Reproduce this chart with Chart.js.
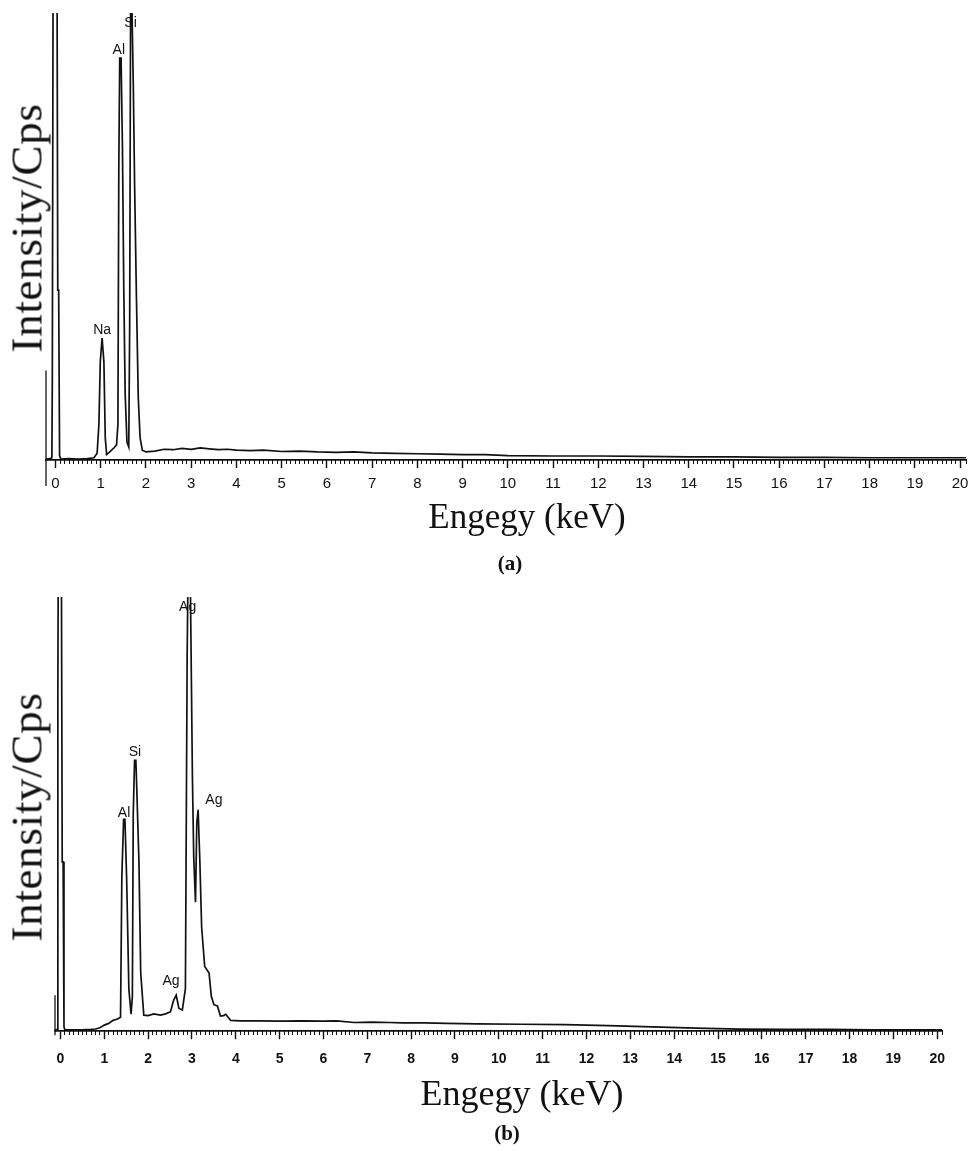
<!DOCTYPE html>
<html>
<head>
<meta charset="utf-8">
<script src="https://cdn.jsdelivr.net/npm/chart.js@4.4.1/dist/chart.umd.min.js"></script>
<style>
  html, body { margin: 0; padding: 0; background: #fff; width: 971px; height: 1151px; overflow: hidden; }
  canvas { position: absolute; left: 0; }
  .txt { position: absolute; white-space: nowrap; color: #111; line-height: 1; transform: translate(-50%, -50%); }
  .ytitle { font-family: 'Liberation Serif', serif; font-size: 45px; letter-spacing: 0.7px; transform: translate(-50%, -50%) rotate(-90deg); }
  .xtitle { font-family: 'Liberation Serif', serif; }
  .panel-tag { font-family: 'Liberation Serif', serif; font-weight: bold; font-size: 21px; }
</style>
</head>
<body>
<canvas id="chartA" width="1000" height="500" style="top:0"></canvas>
<canvas id="chartB" width="1000" height="490" style="top:590px"></canvas>

<div class="txt ytitle" style="left:27px; top:228px">Intensity/Cps</div>
<div class="txt xtitle" style="left:527px; top:516px; font-size:35px">Engegy (keV)</div>
<div class="txt panel-tag" style="left:510px; top:563px">(a)</div>

<div class="txt ytitle" style="left:27px; top:817px">Intensity/Cps</div>
<div class="txt xtitle" style="left:522px; top:1093px; font-size:36px">Engegy (keV)</div>
<div class="txt panel-tag" style="left:507px; top:1133px">(b)</div>

<script>
// x axis labels, 0..20 keV
const tickLabels = ['0', '1', '2', '3', '4', '5', '6', '7', '8', '9', '10',
    '11', '12', '13', '14', '15', '16', '17', '18', '19', '20'];

// (a) spectrum (energy in keV, intensity in % of full scale)
const energyA = [
    -0.21, -0.12, -0.08, -0.07, -0.06, -0.05, 0.03, 0.05, 0.07, 0.09,
    0.12, 0.3, 0.5, 0.7, 0.85, 0.92, 0.96, 0.99, 1.03, 1.07,
    1.10, 1.13, 1.2, 1.3, 1.35, 1.38, 1.40, 1.42, 1.45, 1.48,
    1.51, 1.54, 1.58, 1.62, 1.64, 1.66, 1.69, 1.72, 1.75, 1.79,
    1.83, 1.87, 1.92, 2.0, 2.2, 2.4, 2.6, 2.8, 3.0, 3.2,
    3.4, 3.6, 3.8, 4.0, 4.3, 4.6, 5.0, 5.4, 5.8, 6.2,
    6.6, 7.0, 7.5, 8.0, 8.5, 9.0, 9.5, 10, 11, 12,
    13, 14, 15, 16, 17, 18, 19, 20, 20.13
];
const countsA = [
    0.2, 0.3, 0.5, 18.5, 18.5, 125, 125, 38, 38, 1.0,
    0.2, 0.3, 0.2, 0.3, 0.5, 1.5, 8, 22, 27.3, 22,
    5, 1.2, 1.8, 2.8, 3.4, 8, 66, 89.9, 89.9, 70,
    38, 15, 4, 2.9, 30, 101, 101, 84, 61, 36,
    14, 5, 2.2, 1.8, 2.0, 2.4, 2.3, 2.6, 2.4, 2.7,
    2.5, 2.3, 2.4, 2.2, 2.1, 2.2, 1.9, 2.0, 1.8, 1.7,
    1.8, 1.6, 1.5, 1.4, 1.3, 1.2, 1.2, 1.0, 0.9, 0.9,
    0.8, 0.7, 0.7, 0.6, 0.6, 0.5, 0.5, 0.5, 0.5
];
const peakNamesA = ['Na', 'Al', 'Si'];
const peakEnergyA = [1.03, 1.40, 1.66];
const peakHeightA = [29.1, 91.7, 97.8];

// (b) spectrum
const energyB = [
    -0.125, -0.07, -0.06, -0.05, 0.02, 0.04, 0.06, 0.08, 0.1, 0.3,
    0.5, 0.7, 0.8, 0.9, 1.0, 1.1, 1.2, 1.3, 1.37, 1.40,
    1.44, 1.47, 1.51, 1.56, 1.61, 1.64, 1.66, 1.69, 1.72, 1.74,
    1.79, 1.83, 1.9, 2.0, 2.13, 2.28, 2.4, 2.51, 2.58, 2.64,
    2.70, 2.78, 2.85, 2.89, 2.91, 2.96, 3.01, 3.04, 3.08, 3.11,
    3.14, 3.18, 3.22, 3.29, 3.39, 3.44, 3.50, 3.58, 3.65, 3.72,
    3.77, 3.88, 4.1, 4.5, 5.0, 5.5, 6.0, 6.3, 6.7, 7.1,
    7.5, 7.8, 8.3, 8.8, 9.5, 10.5, 11.5, 12.5, 13.5, 14.5,
    15.5, 16.5, 17.5, 18.5, 19.5, 20.11
];
const countsB = [
    0.3, 0.4, 77, 110, 110, 39, 39, 1.0, 0.3, 0.3,
    0.3, 0.4, 0.5, 0.8, 1.4, 1.8, 2.5, 2.8, 3.2, 35.6,
    48.8, 48.8, 35, 9.7, 3.9, 8, 50, 62.4, 62.4, 56,
    39, 13.5, 3.7, 3.6, 4.0, 3.7, 4.0, 4.5, 7.1, 8.3,
    5.3, 4.9, 9.8, 86.5, 106, 106, 58.4, 40, 29.7, 48,
    51, 39, 24, 14.9, 13.4, 8.1, 6.1, 5.8, 3.5, 3.6,
    3.9, 2.5, 2.4, 2.4, 2.3, 2.4, 2.3, 2.4, 2.0, 2.1,
    2.0, 1.9, 1.9, 1.8, 1.7, 1.6, 1.5, 1.3, 1.0, 0.7,
    0.5, 0.4, 0.4, 0.3, 0.3, 0.3
];
const peakNamesB = ['Al', 'Si', 'Ag', 'Ag', 'Ag'];
const peakEnergyB = [1.45, 1.70, 2.52, 2.90, 3.50];
const peakHeightB = [50.2, 64.3, 11.5, 97.7, 53.2];

// Element labels and the short left axis stub
const peakLabelPlugin = {
    id: 'peakLabels',
    afterDatasetsDraw(chart, args, opts) {
        const { ctx, chartArea } = chart;
        const x = chart.scales.x;
        const y = chart.scales.y;
        ctx.save();
        ctx.font = '14px "Liberation Sans", Arial, sans-serif';
        ctx.fillStyle = '#111';
        ctx.textAlign = 'center';
        ctx.textBaseline = 'middle';
        opts.names.forEach((name, i) => {
            ctx.fillText(name, x.getPixelForValue(opts.energies[i]), y.getPixelForValue(opts.heights[i]));
        });
        ctx.beginPath();
        ctx.lineWidth = 1.3;
        ctx.strokeStyle = '#111';
        ctx.moveTo(chartArea.left, y.getPixelForValue(opts.stubTop));
        ctx.lineTo(chartArea.left, chartArea.bottom + opts.stubBelow);
        ctx.stroke();
        ctx.restore();
    }
};

function renderSpectrum(canvasId, energies, counts, cfg) {
    const ctx = document.getElementById(canvasId).getContext('2d');
    const keepRange = (upper) => (scale) => {
        scale.ticks = scale.ticks.filter(t => t.value >= -1e-6 && t.value <= upper + 1e-6);
    };

    return new Chart(ctx, {
        type: 'line',
        data: {
            datasets: [{
                data: energies.map((e, i) => ({ x: e, y: counts[i] })),
                borderColor: '#111',
                borderWidth: 1.7,
                pointRadius: 0,
                tension: 0,
                fill: false
            }]
        },
        options: {
            responsive: false,
            animation: false,
            events: [],
            layout: { padding: cfg.padding },
            plugins: {
                legend: { display: false },
                tooltip: { enabled: false },
                peakLabels: cfg.labels
            },
            scales: {
                x: {
                    type: 'linear',
                    min: cfg.min,
                    max: cfg.max,
                    afterBuildTicks: keepRange(20),
                    ticks: {
                        stepSize: 1,
                        includeBounds: false,
                        autoSkip: false,
                        maxRotation: 0,
                        padding: cfg.tickPadding,
                        color: '#111',
                        font: cfg.tickFont,
                        callback: (v) => tickLabels[Math.round(v)]
                    },
                    grid: { drawOnChartArea: false, drawTicks: true, tickLength: 8, tickWidth: 1.4, tickColor: '#111' },
                    border: { display: true, color: '#111', width: 1.8 }
                },
                xMinor: {
                    type: 'linear',
                    min: cfg.min,
                    max: cfg.max,
                    position: { y: 0 },
                    afterBuildTicks: keepRange(cfg.max),
                    ticks: { display: false, stepSize: 0.1, autoSkip: false },
                    grid: { drawOnChartArea: false, drawTicks: true, tickLength: 4, tickWidth: 1, tickColor: '#111' },
                    border: { display: false }
                },
                y: { display: false, min: 0, max: 100 }
            }
        },
        plugins: [peakLabelPlugin]
    });
}

renderSpectrum('chartA', energyA, countsA, {
    min: -0.21, max: 20.13,
    padding: { left: 46, right: 34, top: 13, bottom: 0 },
    tickPadding: 7,
    tickFont: { family: '"Liberation Sans", Arial, sans-serif', size: 15 },
    labels: { names: peakNamesA, energies: peakEnergyA, heights: peakHeightA, stubTop: 20, stubBelow: 26 }
});

renderSpectrum('chartB', energyB, countsB, {
    min: -0.125, max: 20.11,
    padding: { left: 55, right: 58, top: 7, bottom: 0 },
    tickPadding: 12,
    tickFont: { family: '"Liberation Sans", Arial, sans-serif', size: 14, weight: 'bold' },
    labels: { names: peakNamesB, energies: peakEnergyB, heights: peakHeightB, stubTop: 8.3, stubBelow: 4 }
});
</script>
</body>
</html>
